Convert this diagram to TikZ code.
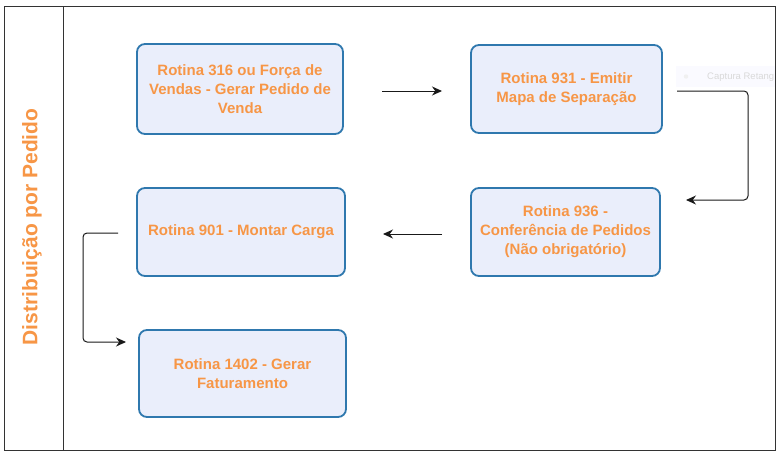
\documentclass[tikz,border=0pt]{standalone}
\usepackage{fontspec}
\setmainfont{Liberation Sans}
\usetikzlibrary{arrows.meta}
\definecolor{txtor}{HTML}{F79646}
\definecolor{boxfill}{HTML}{EAEEFB}
\definecolor{boxline}{HTML}{2F78AE}
\tikzset{
  procbox/.style={draw=boxline, line width=1.8pt, fill=boxfill, rounded corners=8pt,
    align=center, text=txtor, font=\fontsize{15}{19}\selectfont\bfseries, inner sep=0pt},
  conn/.style={draw=black!90, line width=1pt, rounded corners=4pt, -{Stealth[length=10pt,width=9pt]}},
}
\begin{document}
\begin{tikzpicture}[x=1pt,y=-1pt]
\useasboundingbox (0,0) rectangle (784,456);
\fill[white] (0,0) rectangle (784,456);
% faint screenshot artifact
\fill[blue!2] (676,66) rectangle (775,87);
\fill[gray!12] (686,76.5) circle (2.2pt);
\node[anchor=west, text=gray!30, font=\fontsize{9.5}{11}\selectfont, inner sep=0pt] (art) at (707,77) {Captura Retang};
% frame
\draw[black!80, line width=0.9pt] (4.5,6.5) rectangle (775.5,450.5);
\draw[black!80, line width=0.9pt] (63,6.5) -- (63,450.5);
\node[rotate=90, text=txtor, font=\fontsize{21}{24}\selectfont\bfseries] (lane) at (32,227) {Distribuição por Pedido};
% boxes
\node[procbox, minimum width=206pt, minimum height=90pt] (b1) at (240,89) {Rotina 316 ou Força de\\Vendas - Gerar Pedido de\\Venda};
\node[procbox, minimum width=191pt, minimum height=88pt] (b2) at (566.5,89) {Rotina 931 - Emitir\\Mapa de Separação};
\node[procbox, minimum width=189pt, minimum height=88pt] (b3) at (565.5,232) {Rotina 936 -\\Conferência de Pedidos\\(Não obrigatório)};
\node[procbox, minimum width=208pt, minimum height=88pt] (b4) at (241,232) {Rotina 901 - Montar Carga};
\node[procbox, minimum width=207pt, minimum height=87pt] (b5) at (242.5,373.5) {Rotina 1402 - Gerar\\Faturamento};
% connector ends
\coordinate (a1s) at (382,91);
\coordinate (a1e) at (442,91);
\coordinate (a2s) at (677,91);
\coordinate (a2e) at (686,200);
\coordinate (a3s) at (442,234);
\coordinate (a3e) at (383,234);
\coordinate (a4s) at (118,233);
\coordinate (a4e) at (126,342);
\draw[conn] (a1s) -- (a1e);
\draw[conn] (a2s) -- (748,91) -- (748,200) -- (a2e);
\draw[conn] (a3s) -- (a3e);
\draw[conn] (a4s) -- (83,233) -- (83,342) -- (a4e);
\end{tikzpicture}
\end{document}
